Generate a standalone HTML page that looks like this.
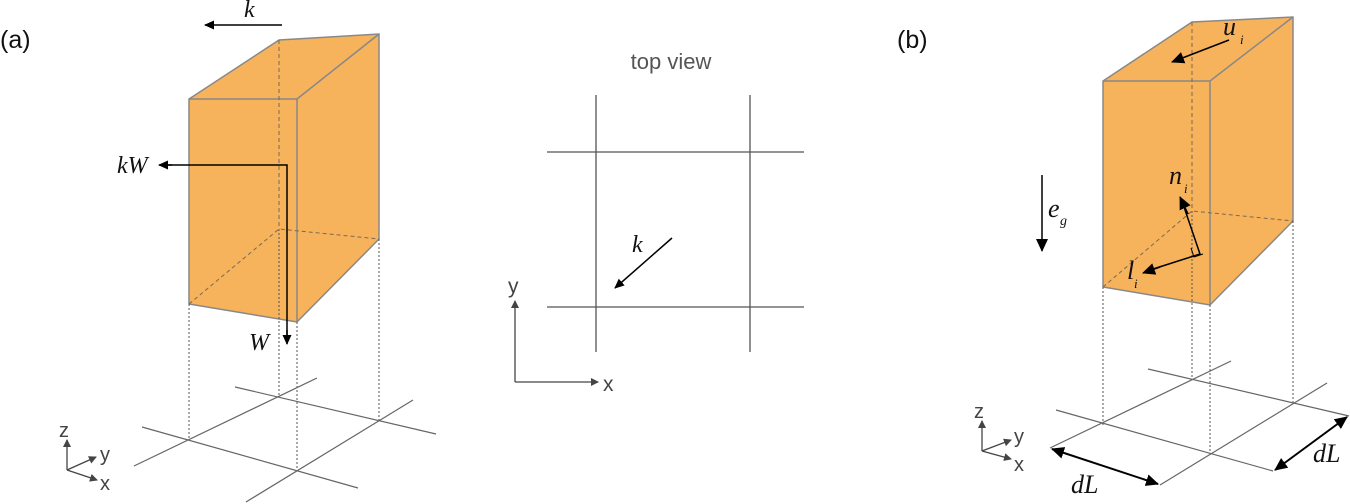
<!DOCTYPE html>
<html><head><meta charset="utf-8"><style>
html,body{margin:0;padding:0;background:#fff;}
svg{display:block;}
.s{font-family:"Liberation Sans",sans-serif;fill:#444;}
.m{font-family:"Liberation Serif",serif;font-style:italic;fill:#111;}
</style></head><body>
<svg width="1350" height="504" viewBox="0 0 1350 504" xmlns="http://www.w3.org/2000/svg">
<defs>
<marker id="ah" markerWidth="10" markerHeight="9" refX="9" refY="4.5" orient="auto" markerUnits="userSpaceOnUse"><path d="M0,0 L10,4.5 L0,9 z" fill="#000"/></marker>
<marker id="ahs" markerWidth="13" markerHeight="12" refX="12" refY="6" orient="auto-start-reverse" markerUnits="userSpaceOnUse"><path d="M0,0 L13,6 L0,12 z" fill="#000"/></marker>
<marker id="ag" markerWidth="8" markerHeight="8" refX="7" refY="4" orient="auto" markerUnits="userSpaceOnUse"><path d="M0,0 L8,4 L0,8 z" fill="#444"/></marker>
</defs>
<text class="s" x="0" y="48" font-size="25" style="fill:#111">(a)</text>
<text class="s" x="897" y="48" font-size="25" style="fill:#111">(b)</text>

<!-- (a) box -->
<polygon points="189,99 279,40 379,34 379,239 297,322 189,304" fill="#F7B25C"/>
<g stroke="#888" stroke-width="1.5" fill="none">
<polyline points="189,304 189,99 279,40 379,34 379,239 297,322 189,304"/>
<polyline points="189,99 297,99 379,34"/>
<line x1="297" y1="99" x2="297" y2="322"/>
</g>
<g stroke="#7a6a55" stroke-width="1" stroke-dasharray="4,3" fill="none">
<line x1="279" y1="40" x2="279" y2="229"/>
<polyline points="189,304 279,229 379,239"/>
</g>
<g stroke="#555" stroke-width="1" stroke-dasharray="2,2">
<line x1="189" y1="304" x2="189" y2="438"/>
<line x1="297" y1="322" x2="297" y2="470"/>
<line x1="279" y1="229" x2="279" y2="396"/>
<line x1="379" y1="239" x2="379" y2="420"/>
</g>
<g stroke="#666" stroke-width="1.2">
<line x1="235" y1="387" x2="436" y2="434"/>
<line x1="142" y1="427" x2="358" y2="488"/>
<line x1="134" y1="466" x2="317" y2="378"/>
<line x1="246" y1="502" x2="413" y2="400"/>
</g>
<line x1="282" y1="25" x2="205" y2="25" stroke="#000" stroke-width="1.5" marker-end="url(#ah)"/>
<text class="m" x="244" y="17" font-size="24">k</text>
<polyline points="287,342 287,165 161,165" fill="none" stroke="#000" stroke-width="1.5"/>
<line x1="287" y1="330" x2="287" y2="344" stroke="#000" stroke-width="1.5" marker-end="url(#ah)"/>
<line x1="172" y1="165" x2="159" y2="165" stroke="#000" stroke-width="1.5" marker-end="url(#ah)"/>
<text class="m" x="117" y="173" font-size="24">kW</text>
<text class="m" x="249" y="350" font-size="24">W</text>
<!-- axes a -->
<g stroke="#444" stroke-width="1.3">
<line x1="67" y1="470" x2="67" y2="440" marker-end="url(#ag)"/>
<line x1="67" y1="470" x2="96" y2="457" marker-end="url(#ag)"/>
<line x1="67" y1="470" x2="97" y2="480" marker-end="url(#ag)"/>
</g>
<text class="s" x="59" y="437" font-size="20">z</text>
<text class="s" x="100" y="461" font-size="20">y</text>
<text class="s" x="100" y="490" font-size="20">x</text>

<!-- top view -->
<text class="s" x="671" y="69" font-size="22" text-anchor="middle" style="fill:#555">top view</text>
<g stroke="#555" stroke-width="1.3">
<line x1="547" y1="152" x2="804" y2="152"/>
<line x1="547" y1="307" x2="804" y2="307"/>
<line x1="596" y1="95" x2="596" y2="352"/>
<line x1="750" y1="95" x2="750" y2="352"/>
</g>
<line x1="672" y1="238" x2="615" y2="288" stroke="#000" stroke-width="1.5" marker-end="url(#ah)"/>
<text class="m" x="632" y="252" font-size="24">k</text>
<g stroke="#444" stroke-width="1.3">
<line x1="515" y1="382" x2="515" y2="301" marker-end="url(#ag)"/>
<line x1="515" y1="382" x2="598" y2="382" marker-end="url(#ag)"/>
</g>
<text class="s" x="508" y="293" font-size="21">y</text>
<text class="s" x="603" y="391" font-size="21">x</text>

<!-- (b) box -->
<polygon points="1103,81 1192,22 1293,17 1293,221 1210,305 1103,287" fill="#F7B25C"/>
<g stroke="#888" stroke-width="1.5" fill="none">
<polyline points="1103,287 1103,81 1192,22 1293,17 1293,221 1210,305 1103,287"/>
<polyline points="1103,81 1210,81 1293,17"/>
<line x1="1210" y1="81" x2="1210" y2="305"/>
</g>
<g stroke="#7a6a55" stroke-width="1" stroke-dasharray="4,3" fill="none">
<line x1="1192" y1="22" x2="1192" y2="211"/>
<polyline points="1103,287 1192,211 1293,221"/>
</g>
<g stroke="#555" stroke-width="1" stroke-dasharray="2,2">
<line x1="1103" y1="287" x2="1103" y2="425"/>
<line x1="1210" y1="305" x2="1210" y2="455"/>
<line x1="1192" y1="211" x2="1192" y2="379"/>
<line x1="1293" y1="221" x2="1293" y2="403"/>
</g>
<g stroke="#666" stroke-width="1.2">
<line x1="1148" y1="369" x2="1349" y2="416"/>
<line x1="1056" y1="410" x2="1273" y2="471"/>
<line x1="1050" y1="448" x2="1231" y2="361"/>
<line x1="1160" y1="485" x2="1327" y2="383"/>
</g>
<line x1="1052" y1="449" x2="1158" y2="484" stroke="#000" stroke-width="2" marker-start="url(#ahs)" marker-end="url(#ahs)"/>
<line x1="1275" y1="470" x2="1347" y2="417" stroke="#000" stroke-width="2" marker-start="url(#ahs)" marker-end="url(#ahs)"/>
<text class="m" x="1071" y="493" font-size="26">dL</text>
<text class="m" x="1313" y="462" font-size="26">dL</text>

<line x1="1229" y1="40" x2="1172" y2="62" stroke="#000" stroke-width="1.5" marker-end="url(#ahs)"/>
<text class="m" x="1223" y="35" font-size="26">u</text>
<text class="m" x="1240" y="44" font-size="13">i</text>
<line x1="1042" y1="175" x2="1042" y2="251" stroke="#000" stroke-width="1.5" marker-end="url(#ahs)"/>
<text class="m" x="1048" y="217" font-size="26">e</text>
<text class="m" x="1060" y="225" font-size="14">g</text>
<polyline points="1183,204 1200,254 1150,270" fill="none" stroke="#000" stroke-width="1.5"/>
<line x1="1188" y1="214" x2="1180" y2="197" stroke="#000" stroke-width="1.5" marker-end="url(#ahs)"/>
<line x1="1160" y1="267" x2="1143" y2="273" stroke="#000" stroke-width="1.5" marker-end="url(#ahs)"/>
<polyline points="1191,248 1194,257 1203,254" fill="none" stroke="#000" stroke-width="1"/>
<text class="m" x="1169" y="184" font-size="26">n</text>
<text class="m" x="1184" y="193" font-size="13">i</text>
<text class="m" x="1127" y="279" font-size="26">l</text>
<text class="m" x="1134" y="288" font-size="13">i</text>
<!-- axes b -->
<g stroke="#444" stroke-width="1.3">
<line x1="982" y1="451" x2="982" y2="421" marker-end="url(#ag)"/>
<line x1="982" y1="451" x2="1011" y2="440" marker-end="url(#ag)"/>
<line x1="982" y1="451" x2="1011" y2="459" marker-end="url(#ag)"/>
</g>
<text class="s" x="974" y="418" font-size="20">z</text>
<text class="s" x="1014" y="443" font-size="20">y</text>
<text class="s" x="1014" y="471" font-size="20">x</text>
</svg>
</body></html>
